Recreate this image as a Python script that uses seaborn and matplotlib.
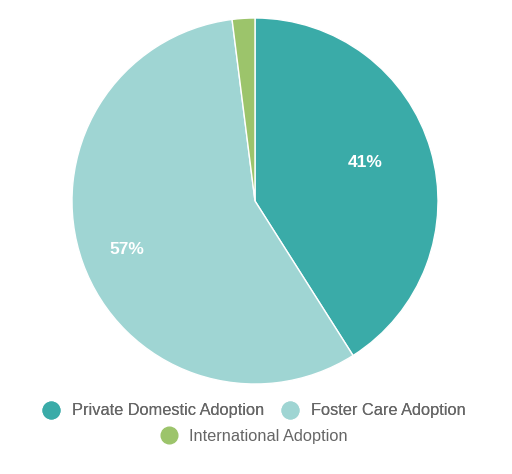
import numpy as np
import matplotlib.pyplot as plt
import seaborn as sns
from matplotlib.lines import Line2D

categories = ["Private Domestic Adoption", "Foster Care Adoption", "International Adoption"]
shares = [41, 57, 2]
colors = ["#3aaba8", "#9fd5d3", "#9cc46b"]
label_dist = [0.64, 0.75, 0.7]
label_turn = [3.0, 0.8, 0]  # small angular nudge of the % labels, degrees

sns.set_theme(style="white")
plt.rcParams["font.family"] = ["Liberation Sans", "DejaVu Sans"]
palette = sns.color_palette(colors)

fig = plt.figure(figsize=(5.12, 4.74), dpi=100)
ax = fig.add_axes([(255 - 183) / 512, (273 - 183) / 474, 366 / 512, 366 / 474])

wedges, _ = ax.pie(shares, colors=palette, startangle=90, counterclock=False,
                   wedgeprops={"edgecolor": "white", "linewidth": 1})
ax.set_xlim(-1, 1)
ax.set_ylim(-1, 1)
ax.set_aspect("equal")
ax.axis("off")

# percent labels on the two big slices
for w, val, d, t in zip(wedges, shares, label_dist, label_turn):
    if val < 5:
        continue
    ang = np.deg2rad((w.theta1 + w.theta2) / 2 + t)
    ax.text(d * np.cos(ang), d * np.sin(ang), f"{val}%", ha="center", va="center",
            color="white", fontsize=12.5, fontweight="bold")

def handle(c):
    return Line2D([], [], marker="o", linestyle="", markersize=12,
                  markerfacecolor=c, markeredgecolor=c)

leg1 = fig.legend([handle(palette[0]), handle(palette[1])], categories[:2],
                  loc="center", bbox_to_anchor=(250 / 512, 1 - 411 / 474), ncol=2,
                  frameon=False, fontsize=11.8, handletextpad=0.25, columnspacing=0.6,
                  labelcolor="#666666")
fig.add_artist(leg1)
fig.legend([handle(palette[2])], categories[2:], loc="center",
           bbox_to_anchor=(250 / 512, 1 - 436 / 474), frameon=False, fontsize=11.8,
           handletextpad=0.25, labelcolor="#666666")

fig.savefig("out.png", dpi=100)
